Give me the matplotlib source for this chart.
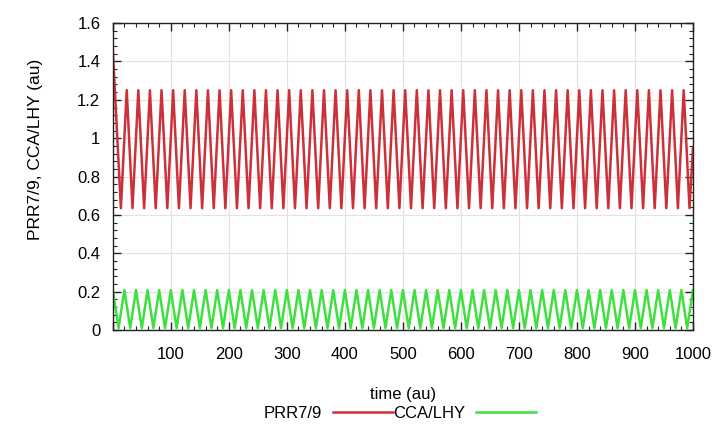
import matplotlib.pyplot as plt
from matplotlib.ticker import MultipleLocator

plt.rcParams['font.family'] = ['Liberation Sans', 'DejaVu Sans']

# turning points (time in au)
red_start = 1.46
red_high = 1.25
red_low = 0.635
red_end = 0.95
red_peak_t = [24, 44, 64, 84, 104, 124, 144, 164, 184, 204, 224, 244, 264, 284,
              304, 324, 344, 364, 384, 404, 424, 444, 464, 484, 504, 524, 544,
              564, 584, 604, 624, 644, 664, 684, 704, 724, 744, 764, 784, 804,
              824, 844, 864, 884, 904, 924, 944, 964, 984]
red_trough_t = [14, 34, 54, 74, 94, 114, 134, 154, 174, 194, 214, 234, 254, 274,
                294, 314, 334, 354, 374, 394, 414, 434, 454, 474, 494, 514, 534,
                554, 574, 594, 614, 634, 654, 674, 694, 714, 734, 754, 774, 794,
                814, 834, 854, 874, 894, 914, 934, 954, 974, 994]

green_high = 0.208
green_low = 0.01
green_peak_t = [0, 20, 40, 60, 80, 100, 120, 140, 160, 180, 200, 220, 240, 260,
                280, 300, 320, 340, 360, 380, 400, 420, 440, 460, 480, 500, 520,
                540, 560, 580, 600, 620, 640, 660, 680, 700, 720, 740, 760, 780,
                800, 820, 840, 860, 880, 900, 920, 940, 960, 980, 1000]
green_trough_t = [10, 30, 50, 70, 90, 110, 130, 150, 170, 190, 210, 230, 250,
                  270, 290, 310, 330, 350, 370, 390, 410, 430, 450, 470, 490, 510,
                  530, 550, 570, 590, 610, 630, 650, 670, 690, 710, 730, 750, 770,
                  790, 810, 830, 850, 870, 890, 910, 930, 950, 970, 990]

x_ticks = [0, 100, 200, 300, 400, 500, 600, 700, 800, 900, 1000]
x_labels = ['', '100', '200', '300', '400', '500', '600', '700', '800', '900', '1000']
y_ticks = [0, 0.2, 0.4, 0.6, 0.8, 1.0, 1.2, 1.4, 1.6]
y_labels = ['0', '0.2', '0.4', '0.6', '0.8', '1', '1.2', '1.4', '1.6']

# build the line series from the turning points
red_pts = [(0, red_start)] + [(t, red_high) for t in red_peak_t] \
    + [(t, red_low) for t in red_trough_t] + [(1000, red_end)]
red_pts.sort()
green_pts = [(t, green_high) for t in green_peak_t] + [(t, green_low) for t in green_trough_t]
green_pts.sort()

fig = plt.figure(figsize=(7.23, 4.28), dpi=100)
ax = fig.add_axes([0.156, 0.229, 0.8025, 0.717])
fs = 12

ax.plot([p[0] for p in red_pts], [p[1] for p in red_pts], color='#cc3038', lw=1.8,
        label='PRR7/9')
ax.plot([p[0] for p in green_pts], [p[1] for p in green_pts], color='#3ee03e', lw=1.8,
        label='CCA/LHY')

ax.set_xlim(0, 1000)
ax.set_ylim(0, 1.6)
ax.set_xticks(x_ticks)
ax.set_xticklabels(x_labels, fontsize=fs)
ax.set_yticks(y_ticks)
ax.set_yticklabels(y_labels, fontsize=fs)
ax.xaxis.set_minor_locator(MultipleLocator(20))
ax.yaxis.set_minor_locator(MultipleLocator(0.04))
ax.tick_params(which='both', direction='in', top=True, right=True, color='#222222')
ax.tick_params(which='major', length=6, width=1)
ax.tick_params(which='minor', length=3, width=0.8)
ax.tick_params(axis='x', which='major', pad=12)
ax.tick_params(axis='y', which='major', pad=9)
ax.grid(True, which='major', color='#e2e2e2', lw=0.8)
ax.set_axisbelow(True)
for s in ax.spines.values():
    s.set_color('#222222')
    s.set_linewidth(1.0)

ax.set_xlabel('time (au)', fontsize=fs, labelpad=18)
ax.set_ylabel('PRR7/9, CCA/LHY (au)', fontsize=12.5)
ax.yaxis.set_label_coords(-0.12, 0.59)

ax.legend(loc='center', bbox_to_anchor=(0.553, 1 - 413 / 428), bbox_transform=fig.transFigure,
          ncol=2, markerfirst=False, frameon=False, fontsize=fs, handlelength=3.6,
          handletextpad=0.65, columnspacing=0.0, borderpad=0)

fig.savefig('out.png', dpi=100)
